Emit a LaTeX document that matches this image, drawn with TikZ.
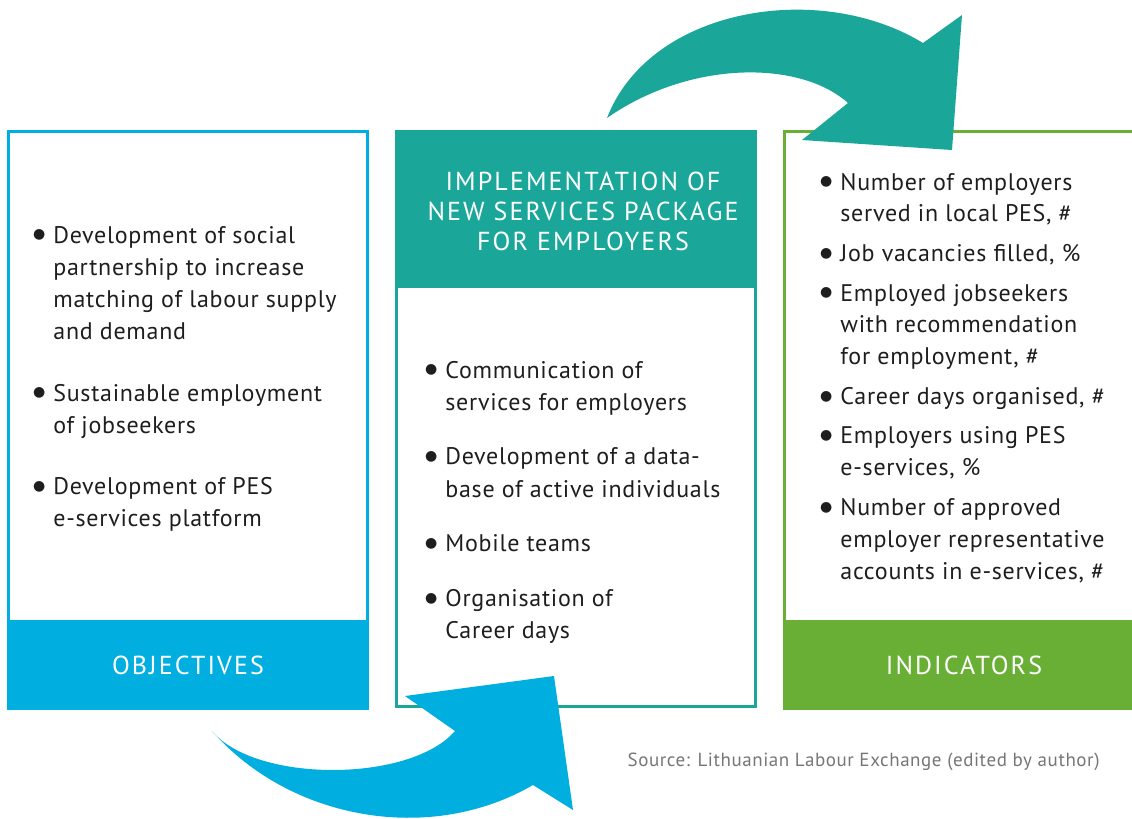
\documentclass[tikz,border=0pt]{standalone}
\usepackage{fontspec}
\setmainfont{PT Sans}[LetterSpace=3]
\newfontfamily\capsfont{PT Sans}[LetterSpace=8]
\newfontfamily\bulletfont{DejaVu Sans}
\definecolor{objblue}{RGB}{0,174,224}
\definecolor{implteal}{RGB}{26,167,154}
\definecolor{indgreen}{RGB}{106,175,53}
\definecolor{bodytext}{RGB}{30,30,30}
\definecolor{srcgrey}{RGB}{118,118,118}
\newcommand\bulletitem{\leavevmode\llap{\raisebox{2.2pt}{\bulletfont\fontsize{7}{7}\selectfont ●}\hspace{4pt}}}
\tikzset{
  frame/.style={line width=1.5pt},
  itemlist/.style={anchor=base west, inner sep=0pt, text=bodytext, font=\fontsize{12}{16}\selectfont},
  bandlabel/.style={inner sep=0pt, text=white, font=\capsfont\fontsize{13}{15}\selectfont},
}
\begin{document}
\begin{tikzpicture}[x=0.5pt,y=-0.5pt]
\useasboundingbox (0,0) rectangle (1132,819);
\clip (0,0) rectangle (1132,819);
% boxes
\draw[frame, objblue] (8.5,131.5) rectangle (367.5,708.5);
\fill[objblue] (7,620) rectangle (369,710);
\draw[frame, implteal] (396.5,131.5) rectangle (755.5,706.5);
\fill[implteal] (395,130) rectangle (757,288);
\draw[frame, indgreen] (784.5,131.5) rectangle (1145,708.5);
\fill[indgreen] (783,620) rectangle (1145,710);
% labels
\node[bandlabel] (objlabel) at (188,665) {OBJECTIVES};
\node[bandlabel] (indlabel) at (964,665) {INDICATORS};
\node[bandlabel, align=center] (impltitle) at (583,211) {IMPLEMENTATION OF\\NEW SERVICES PACKAGE\\FOR EMPLOYERS};
% lists
\node[itemlist] (objlist) at (53,243) {\parbox[t]{170pt}{\raggedright
  \bulletitem Development of social\\partnership to increase\\matching of labour supply\\and demand\par\vspace{15pt}
  \bulletitem Sustainable employment\\of jobseekers\par\vspace{15pt}
  \bulletitem Development of PES\\e-services platform}};
\node[itemlist] (impllist) at (445,378) {\parbox[t]{170pt}{\raggedright
  \bulletitem Communication of\\services for employers\par\vspace{11.5pt}
  \bulletitem Development of a data-\\base of active individuals\par\vspace{11.5pt}
  \bulletitem Mobile teams\par\vspace{11.5pt}
  \bulletitem Organisation of\\Career days}};
\node[itemlist] (indlist) at (840,190) {\parbox[t]{170pt}{\raggedright
  \bulletitem Number of employers\\served in local PES, \#\par\vspace{3.75pt}
  \bulletitem Job vacancies filled, \%\par\vspace{3.75pt}
  \bulletitem Employed jobseekers\\with recommendation\\for employment, \#\par\vspace{3.75pt}
  \bulletitem Career days organised, \#\par\vspace{3.75pt}
  \bulletitem Employers using PES\\e-services, \%\par\vspace{3.75pt}
  \bulletitem Number of approved\\employer representative\\accounts in e-services, \#}};
\node[anchor=base east, inner sep=0pt, text=srcgrey, font=\fontsize{9.5}{11}\selectfont] (source) at (1100,766) {Source: Lithuanian Labour Exchange (edited by author)};
% arrows
\fill[implteal] (607,118) .. controls (650,7) and (820,-20) .. (923,43)
  -- (962,15) -- (952,150) -- (802,140) -- (848,103)
  .. controls (800,60) and (690,60) .. cycle;
\fill[objblue] (212,731) .. controls (290,820) and (430,845) .. (533,785)
  -- (573,810) -- (554,676) -- (405,696) -- (455,731)
  .. controls (410,783) and (255,783) .. cycle;
\end{tikzpicture}
\end{document}
